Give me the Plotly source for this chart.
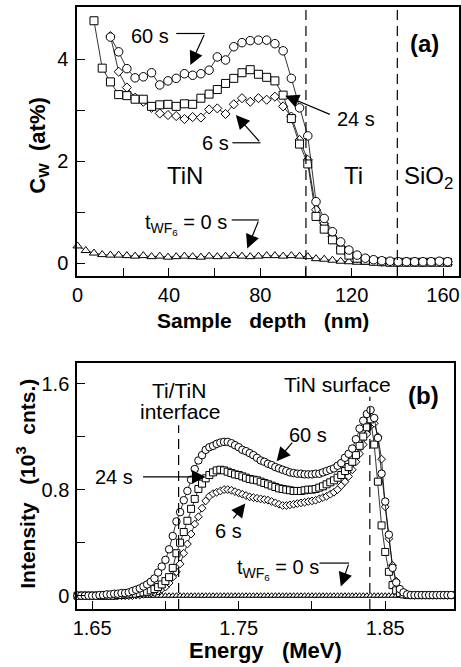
import plotly.graph_objects as go

# ---------------- panel (a): W concentration vs depth ----------------
depth_60s = [14.4, 18.0, 21.6, 25.2, 28.8, 32.4, 36.0, 39.6, 43.2, 46.8, 50.4, 54.0, 57.6, 61.2,
             64.8, 68.4, 72.0, 75.6, 79.2, 82.8, 86.4, 90.0, 93.6, 97.2, 100.8, 104.4, 108.0, 111.6,
             115.2, 118.8, 122.4, 126.0, 129.6, 133.2, 136.8, 140.4, 144.0, 147.6, 151.2, 154.8, 158.4, 162.0]
cw_60s = [4.44, 4.15, 3.82, 3.64, 3.66, 3.74, 3.50, 3.58, 3.63, 3.72, 3.69, 3.72, 3.79, 4.05,
          3.99, 4.25, 4.33, 4.37, 4.38, 4.38, 4.31, 4.17, 3.63, 3.05, 2.50, 1.21, 0.88, 0.62,
          0.42, 0.26, 0.16, 0.10, 0.07, 0.05, 0.04, 0.03, 0.03, 0.03, 0.03, 0.03, 0.04, 0.03]

depth_24s = [7.2, 10.8, 14.4, 18.0, 21.6, 25.2, 28.8, 32.4, 36.0, 39.6, 43.2, 46.8, 50.4, 54.0,
             57.6, 61.2, 64.8, 68.4, 72.0, 75.6, 79.2, 82.8, 86.4, 90.0, 93.6, 97.2, 100.8, 104.4,
             108.0, 111.6, 115.2, 118.8, 122.4, 126.0, 129.6, 133.2, 136.8, 140.4, 144.0, 147.6,
             151.2, 154.8, 158.4, 162.0]
cw_24s = [4.76, 3.83, 3.56, 3.31, 3.29, 3.22, 3.22, 3.08, 3.11, 3.12, 3.08, 3.13, 3.12, 3.24,
          3.32, 3.41, 3.53, 3.63, 3.74, 3.80, 3.71, 3.65, 3.58, 3.30, 2.84, 2.34, 1.95, 0.92,
          0.67, 0.46, 0.26, 0.16, 0.10, 0.06, 0.04, 0.03, 0.02, 0.02, 0.02, 0.02,
          0.02, 0.02, 0.02, 0.02]

depth_6s = [14.4, 18.0, 21.6, 25.2, 28.8, 32.4, 36.0, 39.6, 43.2, 46.8, 50.4, 54.0, 57.6, 61.2,
            64.8, 68.4, 72.0, 75.6, 79.2, 82.8, 86.4, 90.0, 93.6, 97.2, 100.8, 104.4, 108.0, 111.6,
            115.2, 118.8, 122.4, 126.0, 129.6, 133.2, 136.8, 140.4, 144.0, 147.6, 151.2, 154.8, 158.4, 162.0]
cw_6s = [4.46, 3.76, 3.45, 3.25, 3.17, 3.05, 2.94, 2.91, 2.89, 2.83, 2.87, 2.86, 3.02, 3.04,
         2.93, 3.12, 3.24, 3.17, 3.24, 3.21, 3.27, 3.08, 2.88, 2.42, 2.03, 1.05, 0.78, 0.52,
         0.30, 0.17, 0.10, 0.06, 0.04, 0.03, 0.03, 0.03, 0.03, 0.03, 0.03, 0.03, 0.03, 0.03]

depth_0s = [0.0, 3.6, 7.2, 10.8, 14.4, 18.0, 21.6, 25.2, 28.8, 32.4, 36.0, 39.6, 43.2, 46.8,
            50.4, 54.0, 57.6, 61.2, 64.8, 68.4, 72.0, 75.6, 79.2, 82.8, 86.4, 90.0, 93.6, 97.2,
            100.8, 104.4, 108.0, 111.6, 115.2, 118.8, 122.4, 126.0, 129.6, 133.2, 136.8, 140.4,
            144.0, 147.6, 151.2, 154.8, 158.4, 162.0]
cw_0s = [0.34, 0.25, 0.20, 0.17, 0.16, 0.16, 0.15, 0.14, 0.15, 0.13, 0.14, 0.12, 0.13, 0.14,
         0.13, 0.12, 0.14, 0.13, 0.14, 0.15, 0.14, 0.13, 0.14, 0.15, 0.15, 0.14, 0.15, 0.14,
         0.13, 0.09, 0.08, 0.06, 0.04, 0.03, 0.02, 0.02, 0.01, 0.01, 0.01, 0.01,
         0.01, 0.01, 0.01, 0.01, 0.01, 0.01]

xa_tickvals = [0, 40, 80, 120, 160]
xa_ticktext = ["0", "40", "80", "120", "160"]
xa_minor = [20, 60, 100, 140]
ya_tickvals = [0, 2, 4]
ya_ticktext = ["0", "2", "4"]
ya_minor = [1, 3]

# ---------------- panel (b): RBS W signal vs energy ----------------
energy = [1.6400, 1.6425, 1.6450, 1.6475, 1.6500, 1.6525, 1.6550, 1.6575, 1.6600, 1.6625,
          1.6650, 1.6675, 1.6700, 1.6725, 1.6750, 1.6775, 1.6800, 1.6825, 1.6850, 1.6875,
          1.6900, 1.6925, 1.6950, 1.6975, 1.7000, 1.7025, 1.7050, 1.7075, 1.7100, 1.7125,
          1.7150, 1.7175, 1.7200, 1.7225, 1.7250, 1.7275, 1.7300, 1.7325, 1.7350, 1.7375,
          1.7400, 1.7425, 1.7450, 1.7475, 1.7500, 1.7525, 1.7550, 1.7575, 1.7600, 1.7625,
          1.7650, 1.7675, 1.7700, 1.7725, 1.7750, 1.7775, 1.7800, 1.7825, 1.7850, 1.7875,
          1.7900, 1.7925, 1.7950, 1.7975, 1.8000, 1.8025, 1.8050, 1.8075, 1.8100, 1.8125,
          1.8150, 1.8175, 1.8200, 1.8225, 1.8250, 1.8275, 1.8300, 1.8325, 1.8350, 1.8375,
          1.8400, 1.8425, 1.8450, 1.8475, 1.8500, 1.8525, 1.8550, 1.8575, 1.8600, 1.8625,
          1.8650, 1.8675, 1.8700, 1.8725, 1.8750, 1.8775, 1.8800, 1.8825, 1.8850, 1.8875,
          1.8900, 1.8925, 1.8950]

int_60s = [0.0, 0.0, 0.0, 0.0, 0.0, 0.0, 0.005, 0.005, 0.01, 0.01,
           0.015, 0.015, 0.02, 0.02, 0.025, 0.035, 0.045, 0.055, 0.07, 0.085,
           0.105, 0.13, 0.175, 0.22, 0.27, 0.35, 0.45, 0.56, 0.63, 0.72,
           0.79, 0.875, 0.955, 1.02, 1.06, 1.10, 1.12, 1.13, 1.145, 1.155,
           1.16, 1.16, 1.15, 1.135, 1.12, 1.10, 1.09, 1.075, 1.06, 1.04,
           1.02, 1.01, 0.995, 0.985, 0.97, 0.96, 0.95, 0.94, 0.93, 0.925,
           0.92, 0.92, 0.915, 0.915, 0.915, 0.92, 0.92, 0.93, 0.94, 0.95,
           0.96, 0.98, 1.00, 1.04, 1.07, 1.11, 1.18, 1.26, 1.32, 1.37,
           1.40, 1.34, 1.19, 0.92, 0.71, 0.46, 0.21, 0.10, 0.05, 0.025,
           0.01, 0.005, 0.005, 0.005, 0.005, 0.005, 0.005, 0.005, 0.005, 0.005,
           0.005, 0.005, 0.005]

int_24s = [0.0, 0.0, 0.0, 0.0, 0.0, 0.0, 0.0, 0.0, 0.0, 0.0,
           0.0, 0.005, 0.005, 0.01, 0.01, 0.015, 0.015, 0.02, 0.025, 0.03,
           0.04, 0.05, 0.065, 0.085, 0.11, 0.14, 0.21, 0.32, 0.40, 0.48,
           0.565, 0.655, 0.73, 0.805, 0.845, 0.885, 0.91, 0.93, 0.945, 0.95,
           0.945, 0.935, 0.925, 0.915, 0.91, 0.90, 0.89, 0.88, 0.875, 0.87,
           0.86, 0.85, 0.84, 0.83, 0.82, 0.81, 0.805, 0.80, 0.795, 0.79,
           0.79, 0.79, 0.795, 0.80, 0.80, 0.805, 0.815, 0.825, 0.84, 0.855,
           0.87, 0.89, 0.91, 0.94, 0.97, 1.01, 1.06, 1.13, 1.20, 1.27,
           1.33, 1.14, 0.86, 0.53, 0.33, 0.18, 0.08, 0.04, 0.02, 0.01,
           0.005, 0.005, 0.005, 0.005, 0.005, 0.005, 0.005, 0.005, 0.005, 0.005,
           0.005, 0.005, 0.005]

int_6s = [0.0, 0.0, 0.0, 0.0, 0.0, 0.0, 0.0, 0.0, 0.0, 0.0,
          0.0, 0.0, 0.0, 0.0, 0.0, 0.0, 0.005, 0.005, 0.01, 0.015,
          0.02, 0.025, 0.035, 0.05, 0.065, 0.095, 0.14, 0.18, 0.24, 0.32,
          0.39, 0.465, 0.54, 0.595, 0.66, 0.715, 0.75, 0.77, 0.78, 0.79,
          0.80, 0.80, 0.795, 0.785, 0.775, 0.765, 0.755, 0.745, 0.74, 0.735,
          0.73, 0.725, 0.72, 0.71, 0.70, 0.69, 0.68, 0.68, 0.685, 0.69,
          0.695, 0.70, 0.705, 0.71, 0.715, 0.72, 0.73, 0.74, 0.75, 0.765,
          0.78, 0.80, 0.83, 0.86, 0.90, 0.95, 1.01, 1.07, 1.14, 1.22,
          1.28, 1.30, 1.20, 1.03, 0.67, 0.43, 0.23, 0.11, 0.05, 0.02,
          0.01, 0.005, 0.005, 0.005, 0.005, 0.005, 0.005, 0.005, 0.005, 0.005,
          0.005, 0.005, 0.005]

int_0s = [0.0, 0.0, 0.0, 0.0, 0.0, 0.0, 0.0, 0.0, 0.0, 0.0,
          0.0, 0.0, 0.0, 0.0, 0.0, 0.0, 0.0, 0.0, 0.0, 0.0,
          0.0, 0.0, 0.0, 0.0, 0.0, 0.0, 0.0, 0.0, 0.0, 0.0,
          0.0, 0.0, 0.0, 0.0, 0.0, 0.0, 0.0, 0.0, 0.0, 0.0,
          0.0, 0.0, 0.0, 0.0, 0.0, 0.0, 0.0, 0.0, 0.0, 0.0,
          0.0, 0.0, 0.0, 0.0, 0.0, 0.0, 0.0, 0.0, 0.0, 0.0,
          0.0, 0.0, 0.0, 0.0, 0.0, 0.0, 0.0, 0.0, 0.0, 0.0,
          0.0, 0.0, 0.0, 0.0, 0.0, 0.0, 0.0, 0.0, 0.0, 0.0,
          0.0, 0.0, 0.0, 0.0, 0.0, 0.0, 0.0, 0.0, 0.0, 0.0,
          0.0, 0.0, 0.0, 0.0, 0.0, 0.0, 0.0, 0.0, 0.0, 0.0,
          0.0, 0.0, 0.0]

xb_tickvals = [1.65, 1.75, 1.85]
xb_ticktext = ["1.65", "1.75", "1.85"]
xb_minor = [1.70, 1.80]
yb_tickvals = [0, 0.8, 1.6]
yb_ticktext = ["0", "0.8", "1.6"]
yb_minor = [0.4, 1.2]

FONT = "Liberation Sans, Arial, Helvetica, sans-serif"
NB = "\u00a0"

fig = go.Figure()


def add_series(x, y, symbol, size, xa, ya, name):
    fig.add_trace(go.Scatter(
        x=x, y=y, mode="lines+markers", xaxis=xa, yaxis=ya, name=name,
        line=dict(color="black", width=0.8),
        marker=dict(symbol=symbol, size=size, color="white",
                    line=dict(color="black", width=1)),
        cliponaxis=False, showlegend=False))


# panel (a)
add_series(depth_0s, cw_0s, "triangle-up", 8, "x", "y", "0 s")
add_series(depth_6s, cw_6s, "diamond", 7, "x", "y", "6 s")
add_series(depth_24s, cw_24s, "square", 8, "x", "y", "24 s")
add_series(depth_60s, cw_60s, "circle", 8.5, "x", "y", "60 s")
# panel (b)
add_series(energy, int_0s, "triangle-up", 6, "x2", "y2", "0 s")
add_series(energy, int_6s, "diamond", 6, "x2", "y2", "6 s")
add_series(energy, int_24s, "square", 7, "x2", "y2", "24 s")
add_series(energy, int_60s, "circle", 7.5, "x2", "y2", "60 s")


def axis_common():
    return dict(showline=True, linecolor="black", linewidth=1.6, mirror=True,
                ticks="inside", ticklen=8, tickwidth=1.2, tickcolor="black",
                showgrid=False, zeroline=False,
                tickfont=dict(family=FONT, size=20, color="black"))


xa = axis_common()
xa.update(domain=[0.1584, 0.9978], range=[-0.2, 167], anchor="y",
          tickmode="array", tickvals=xa_tickvals, ticktext=xa_ticktext,
          minor=dict(tickvals=xa_minor, ticks="inside", ticklen=8, tickwidth=1.2, tickcolor="black"),
          ticklabelstandoff=0)
ya = axis_common()
ya.update(domain=[0.5862, 0.9895], range=[-0.25, 5.03], anchor="x",
          tickmode="array", tickvals=ya_tickvals, ticktext=ya_ticktext,
          minor=dict(tickvals=ya_minor, ticks="inside", ticklen=8, tickwidth=1.2, tickcolor="black"),
          ticklabelstandoff=3)
xb = axis_common()
xb.update(domain=[0.1584, 0.987], range=[1.6397, 1.897], anchor="y2",
          tickmode="array", tickvals=xb_tickvals, ticktext=xb_ticktext,
          minor=dict(tickvals=xb_minor, ticks="inside", ticklen=8, tickwidth=1.2, tickcolor="black"),
          ticklabelstandoff=0)
yb = axis_common()
yb.update(domain=[0.0870, 0.4558], range=[-0.1, 1.755], anchor="x2",
          tickmode="array", tickvals=yb_tickvals, ticktext=yb_ticktext,
          minor=dict(tickvals=yb_minor, ticks="inside", ticklen=8, tickwidth=1.2, tickcolor="black"),
          ticklabelstandoff=2)

shapes = []
dash = "10px,6px"
# boundaries in panel (a)
for xv in [100, 140]:
    shapes.append(dict(type="line", xref="x", yref="y domain", x0=xv, x1=xv, y0=0, y1=1,
                       line=dict(color="black", width=1.2, dash=dash)))
# boundaries in panel (b)
shapes.append(dict(type="line", xref="x2", yref="y2", x0=1.709, x1=1.709, y0=-0.1, y1=1.285,
                   line=dict(color="black", width=1.2, dash=dash)))
shapes.append(dict(type="line", xref="x2", yref="y2", x0=1.8395, x1=1.8395, y0=-0.1, y1=1.50,
                   line=dict(color="black", width=1.2, dash=dash)))

# leader lines (horizontal parts)
leaders = [("x", "y", 43.2, 55.7, 4.51), ("x", "y", 67.8, 80.1, 2.365),
           ("x", "y", 67.5, 79.4, 0.85), ("x2", "y2", 1.8051, 1.8253, 0.246)]
for xr, yr, x0, x1, yv in leaders:
    shapes.append(dict(type="line", xref=xr, yref=yr, x0=x0, x1=x1, y0=yv, y1=yv,
                       line=dict(color="black", width=1.2)))

ann = []


def text(xr, yr, x, y, s, size=20, bold=False, angle=0, pad=1):
    ann.append(dict(xref=xr, yref=yr, x=x, y=y, text=("<b>%s</b>" % s) if bold else s,
                    showarrow=False, xanchor="center", yanchor="middle", textangle=angle,
                    borderpad=pad,
                    font=dict(family=FONT, size=size, color="black")))


def arrow(xr, yr, x0, y0, x1, y1):
    ann.append(dict(xref=xr, yref=yr, axref=xr, ayref=yr, x=x1, y=y1, ax=x0, ay=y0,
                    text="", showarrow=True, arrowhead=2, arrowsize=2.3, arrowwidth=1.2,
                    arrowcolor="black", standoff=0, startstandoff=0))


# panel (a) texts
text("x", "y", 31.9, 4.46, "60 s")
arrow("x", "y", 55.7, 4.51, 49.4, 3.89)
text("x", "y", 121.9, 2.84, "24 s")
arrow("x", "y", 111.1, 2.91, 90.9, 3.29)
text("x", "y", 60.2, 2.365, "6 s")
arrow("x", "y", 80.1, 2.365, 69.3, 2.91)
text("x", "y", 47.4, 0.76, "t<sub>WF<sub>6</sub></sub> = 0 s")
arrow("x", "y", 79.4, 0.85, 74.3, 0.29)
text("x", "y", 46.9, 1.73, "TiN", size=24)
text("x", "y", 120.6, 1.73, "Ti", size=24)
text("x", "y", 153.6, 1.68, "SiO<sub>2</sub>", size=24)
text("paper", "paper", 0.922, 0.9355, "(a)", size=24, bold=True)

# panel (b) texts
text("x2", "y2", 1.7096, 1.550, "Ti/TiN", size=21, pad=0)
text("x2", "y2", 1.7105, 1.392, "interface", size=21, pad=0)
text("x2", "y2", 1.8175, 1.591, "TiN surface", size=21)
text("paper", "paper", 0.9197, 0.4063, "(b)", size=24, bold=True)
text("x2", "y2", 1.7973, 1.21, "60 s")
arrow("x2", "y2", 1.7874, 1.165, 1.7759, 1.014)
text("x2", "y2", 1.6647, 0.894, "24 s")
arrow("x2", "y2", 1.6837, 0.896, 1.7275, 0.896)
text("x2", "y2", 1.7433, 0.488, "6 s")
arrow("x2", "y2", 1.7456, 0.571, 1.7545, 0.696)
text("x2", "y2", 1.7766, 0.20, "t<sub>WF<sub>6</sub></sub> = 0 s")
arrow("x2", "y2", 1.8253, 0.246, 1.8197, 0.07)

# axis titles
text("paper", "paper", 0.568, 0.5195, "Sample" + NB * 3 + "depth" + NB * 3 + "(nm)", size=21, bold=True)
text("paper", "paper", 0.0738, 0.781, "C<sub>W</sub>" + NB * 2 + "(at%)", size=22, bold=True, angle=-90)
text("paper", "paper", 0.5716, 0.0240, "Energy" + NB * 3 + "(MeV)", size=22, bold=True)
text("paper", "paper", 0.0456, 0.2744, "Intensity" + NB * 3 + "(10<sup>3</sup>" + NB * 2 + "cnts.)",
     size=21, bold=True, angle=-90)

fig.update_layout(
    width=461, height=667, margin=dict(l=0, r=0, t=0, b=0),
    paper_bgcolor="white", plot_bgcolor="white",
    font=dict(family=FONT, color="black"),
    xaxis=xa, yaxis=ya, xaxis2=xb, yaxis2=yb,
    shapes=shapes, annotations=ann, showlegend=False,
)

fig.write_html(
    "out.html",
    config={"displayModeBar": False},
    post_script="document.body.style.margin='0';document.body.style.padding='0';"
                "document.body.style.overflow='hidden';"
                "document.documentElement.style.overflow='hidden';",
)
